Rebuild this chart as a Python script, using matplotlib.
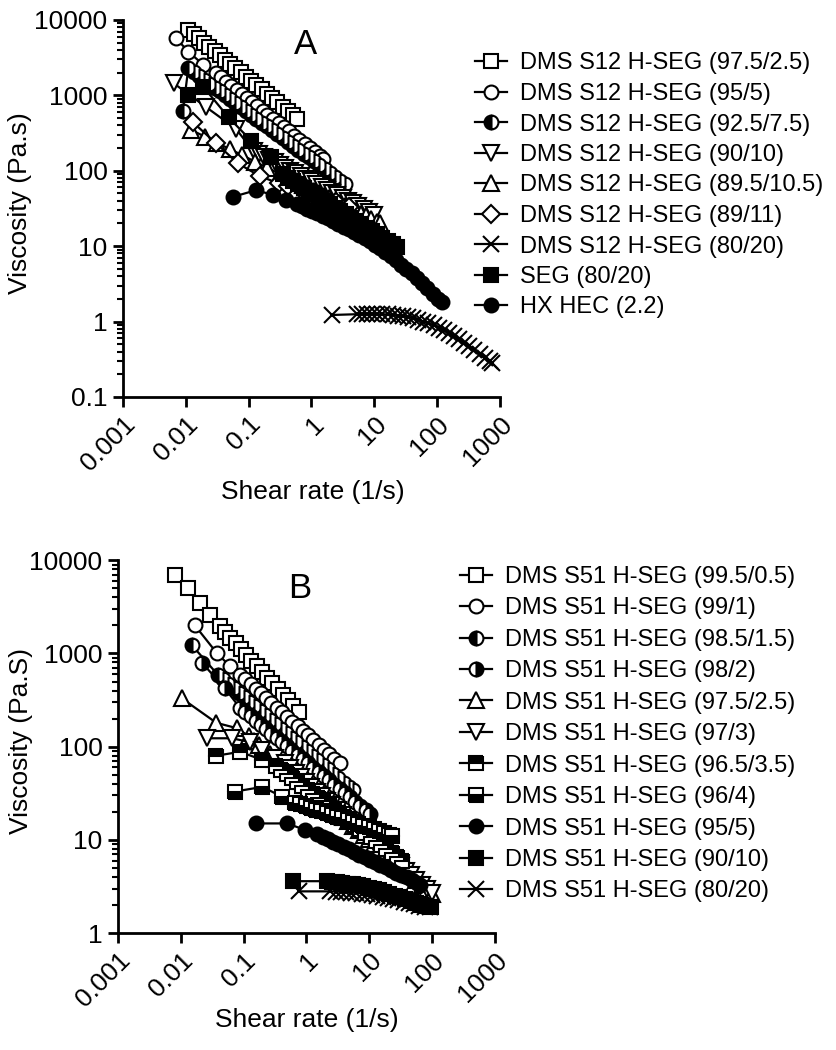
import matplotlib
matplotlib.use('Agg')
import matplotlib.pyplot as plt

plt.rcParams['font.family'] = ['Liberation Sans', 'DejaVu Sans']

# ---------------- panel A : DMS S12 H-SEG ----------------
a_labels = ['DMS S12 H-SEG (97.5/2.5)', 'DMS S12 H-SEG (95/5)', 'DMS S12 H-SEG (92.5/7.5)',
            'DMS S12 H-SEG (90/10)', 'DMS S12 H-SEG (89.5/10.5)', 'DMS S12 H-SEG (89/11)',
            'DMS S12 H-SEG (80/20)', 'SEG (80/20)', 'HX HEC (2.2)']

a1_rate = [0.011, 0.0133, 0.0162, 0.0196, 0.0237, 0.0287, 0.0348, 0.0422, 0.0511, 0.0619, 0.075,
           0.0909, 0.11, 0.133, 0.162, 0.196, 0.237, 0.287, 0.348, 0.422, 0.511, 0.58]
a1_visc = [7400, 6500, 5700, 5000, 4400, 3860, 3390, 2980, 2610, 2300, 2020, 1770, 1550, 1365, 1200,
           1050, 920, 810, 710, 625, 550, 480]

a2_rate = [0.0069, 0.011, 0.019, 0.03, 0.0363, 0.044, 0.0533, 0.0645, 0.078, 0.0945, 0.114, 0.138,
           0.167, 0.2, 0.245, 0.3, 0.363, 0.44, 0.533, 0.645, 0.78, 0.945, 1.14, 1.39, 1.55]
a2_visc = [5800, 3800, 2550, 1960, 1727, 1521, 1340, 1181, 1040, 917, 808, 712, 627, 552, 487, 429,
           378, 333, 293, 258, 228, 201, 177, 156, 145]

a3_rate = [0.009, 0.011, 0.0133, 0.0162, 0.0196, 0.0237, 0.0287, 0.0348, 0.0422, 0.0511, 0.0619,
           0.075, 0.0909, 0.11, 0.133, 0.162, 0.196, 0.237, 0.287, 0.348, 0.422, 0.511, 0.619, 0.75,
           0.909, 1.1, 1.33, 1.62, 1.96, 2.37, 2.87, 3.4]
a3_visc = [620, 2300, 2042, 1814, 1611, 1430, 1270, 1128, 1001, 889, 790, 701, 623, 553, 491, 436,
           387, 344, 305, 271, 241, 214, 190, 169, 150, 133, 118, 105, 93, 83, 73.6, 66]

a4_rate = [0.0064, 0.021, 0.063, 0.12, 0.145, 0.176, 0.213, 0.259, 0.313, 0.38, 0.46, 0.558, 0.676,
           0.819, 0.993, 1.2, 1.46, 1.77, 2.14, 2.6, 3.15, 3.82, 4.62, 5.6, 6.8, 8.2, 10]
a4_visc = [1450, 700, 360, 180, 166, 152, 140, 129, 118, 109, 100, 92, 85, 78, 72, 66, 61, 56, 51,
           47, 43, 40, 37, 34, 31, 28.5, 26]

a5_rate = [0.012, 0.02, 0.032, 0.05, 0.079, 0.126, 0.2, 0.32, 0.5, 0.606, 0.735, 0.891, 1.08, 1.31,
           1.59, 1.93, 2.34, 2.83, 3.43, 4.16, 5.05, 6.12, 7.42, 9.0, 10.9, 12.3]
a5_visc = [350, 284, 233, 194, 161, 132, 109, 90, 75, 69.3, 64, 59, 54.6, 50.5, 46.6, 43, 39.8, 36.8,
           34, 31.4, 29, 26.8, 24.8, 22.9, 21.1, 20]

a6_rate = [0.013, 0.03, 0.068, 0.15, 0.3, 0.43, 0.7, 1.0, 1.6, 2.5, 4.0]
a6_visc = [440, 233, 125, 85, 68, 62, 55, 50, 44, 38, 33]

a7_rate = [2.1, 5.3, 6.4, 7.7, 9.3, 11.2, 13.5, 16.3, 19.6, 23.7, 28.5, 34.4, 41.5, 50, 60.4, 72.8,
           87.8, 106, 128, 154, 186, 224, 270, 326, 393, 474, 572, 690, 760]
a7_visc = [1.22, 1.25, 1.26, 1.26, 1.26, 1.25, 1.25, 1.24, 1.22, 1.2, 1.18, 1.15, 1.11, 1.06, 1.0,
           0.95, 0.89, 0.83, 0.77, 0.7, 0.64, 0.58, 0.52, 0.47, 0.42, 0.37, 0.33, 0.295, 0.28]

a8_rate = [0.011, 0.019, 0.048, 0.11, 0.23, 0.35, 0.424, 0.514, 0.623, 0.755, 0.915, 1.11, 1.34,
           1.63, 1.97, 2.39, 2.9, 3.51, 4.26, 5.16, 6.25, 7.58, 9.18, 11.1, 13.5, 16.3, 19.8, 23]
a8_visc = [1000, 1300, 510, 250, 150, 90, 81.3, 73.4, 66.3, 59.9, 54.1, 48.8, 44.1, 39.8, 35.9, 32.5,
           29.3, 26.5, 23.9, 21.6, 19.5, 17.6, 15.9, 14.4, 13.0, 11.7, 10.6, 9.7]

a9_rate = [0.056, 0.13, 0.245, 0.4, 0.58, 0.7, 0.85, 1.03, 1.25, 1.51, 1.83, 2.22, 2.69, 3.26, 3.95,
           4.79, 5.8, 7.03, 8.52, 10.3, 12.5, 15.1, 18.3, 22.2, 26.9, 32.6, 39.5, 47.9, 58, 70.3,
           85.2, 103, 120]
a9_visc = [45, 55, 48, 41, 36, 33.8, 31.5, 29.3, 27.3, 25.3, 23.4, 21.5, 19.8, 18.2, 16.7, 15.3, 14.0,
           12.8, 11.6, 10.4, 9.3, 8.3, 7.4, 6.5, 5.7, 5.0, 4.35, 3.75, 3.2, 2.75, 2.35, 2.0, 1.8]

# ---------------- panel B : DMS S51 H-SEG ----------------
b_labels = ['DMS S51 H-SEG (99.5/0.5)', 'DMS S51 H-SEG (99/1)', 'DMS S51 H-SEG (98.5/1.5)',
            'DMS S51 H-SEG (98/2)', 'DMS S51 H-SEG (97.5/2.5)', 'DMS S51 H-SEG (97/3)',
            'DMS S51 H-SEG (96.5/3.5)', 'DMS S51 H-SEG (96/4)', 'DMS S51 H-SEG (95/5)',
            'DMS S51 H-SEG (90/10)', 'DMS S51 H-SEG (80/20)']

b1_rate = [0.0081, 0.013, 0.02, 0.029, 0.042, 0.051, 0.0618, 0.0749, 0.0908, 0.11, 0.133, 0.161,
           0.196, 0.237, 0.287, 0.348, 0.422, 0.511, 0.619, 0.75]
b1_visc = [6900, 5000, 3450, 2600, 1950, 1695, 1473, 1280, 1112, 966, 840, 730, 634, 551, 479, 416,
           362, 314, 273, 237]

b2_rate = [0.0168, 0.038, 0.061, 0.088, 0.107, 0.129, 0.156, 0.189, 0.229, 0.278, 0.337, 0.408,
           0.494, 0.599, 0.726, 0.879, 1.07, 1.29, 1.56, 1.9, 2.3, 2.78, 3.37]
b2_visc = [2000, 1000, 730, 590, 526, 468, 417, 372, 331, 295, 263, 234, 209, 186, 166, 148, 132, 117,
           104.5, 93, 83, 74, 66]

b3_rate = [0.015, 0.039, 0.0473, 0.0573, 0.0694, 0.0841, 0.102, 0.123, 0.149, 0.181, 0.219, 0.266,
           0.322, 0.39, 0.473, 0.573, 0.694, 0.841, 1.02, 1.23, 1.49, 1.81, 2.19, 2.66, 3.22, 3.9,
           4.73, 5.5]
b3_visc = [1230, 590, 528, 473, 423, 379, 339, 303, 272, 243, 218, 195, 174, 156, 140, 125, 112, 100,
           89.6, 80.2, 71.8, 64.2, 57.5, 51.4, 46, 41.2, 36.9, 34]

b4_rate = [0.022, 0.05, 0.088, 0.107, 0.129, 0.156, 0.189, 0.229, 0.278, 0.337, 0.408, 0.494, 0.599,
           0.726, 0.879, 1.07, 1.29, 1.56, 1.9, 2.3, 2.78, 3.37, 4.08, 4.94, 5.99, 7.26, 8.79, 10.3]
b4_visc = [790, 425, 260, 234, 211, 190, 171, 154, 138, 124, 112, 101, 90.7, 81.6, 73.5, 66.1, 59.5,
           53.6, 48.2, 43.4, 39, 35.1, 31.6, 28.5, 25.6, 23, 20.7, 19]

b5_rate = [0.0104, 0.037, 0.078, 0.12, 0.145, 0.176, 0.213, 0.259, 0.313, 0.38, 0.46, 0.558, 0.676,
           0.819, 0.993, 1.2, 1.46, 1.77, 2.14, 2.6, 3.15, 3.82, 4.62, 5.6, 6.8, 8.2, 10, 12.1, 14.7,
           17.8, 21.5, 26.1, 31.6, 38.3, 46.4, 56.2, 68.1, 82.5, 100]
b5_visc = [330, 180, 158, 130, 116, 104, 93.2, 83.4, 74.6, 66.8, 59.8, 53.5, 47.9, 42.9, 38.4, 34.3,
           30.7, 27.5, 24.6, 22, 19.7, 17.6, 15.8, 14.1, 12.6, 11.3, 10.1, 9.05, 8.1, 7.25, 6.5, 5.8,
           5.2, 4.65, 4.15, 3.7, 3.3, 2.95, 2.65]

b6_rate = [0.026, 0.065, 0.126, 0.2, 0.32, 0.46, 0.558, 0.676, 0.819, 0.993, 1.2, 1.46, 1.77, 2.14,
           2.6, 3.15, 3.82, 4.62, 5.6, 6.8, 8.2, 10, 12.1, 14.7, 17.8, 21.5, 26.1, 31.6, 38.3, 46.4,
           56.2, 68.1, 82.5, 100]
b6_visc = [123, 123, 112, 91, 75, 66, 58.8, 52.4, 46.7, 41.6, 37.1, 33.0, 29.4, 26.2, 23.4, 20.8, 18.6,
           16.5, 14.7, 13.1, 11.7, 10.4, 9.3, 8.3, 7.4, 6.6, 5.85, 5.2, 4.65, 4.15, 3.7, 3.3, 2.95, 2.7]

b7_rate = [0.037, 0.088, 0.2, 0.33, 0.4, 0.485, 0.588, 0.712, 0.863, 1.05, 1.27, 1.54, 1.86, 2.26,
           2.74, 3.32, 4.02, 4.87, 5.9, 7.15, 8.67, 10.5, 12.7, 15.4, 18.7, 22.7, 27.5, 33.3]
b7_visc = [80, 88, 72, 62, 56.2, 51, 46.3, 42, 38.1, 34.5, 31.3, 28.4, 25.8, 23.4, 21.2, 19.2, 17.4,
           15.8, 14.3, 13, 11.8, 10.7, 9.7, 8.8, 8.0, 7.25, 6.6, 6.0]

b8_rate = [0.073, 0.2, 0.41, 0.66, 0.8, 0.97, 1.18, 1.43, 1.73, 2.1, 2.54, 3.08, 3.73, 4.52, 5.48,
           6.64, 8.05, 9.75, 11.8, 14.3, 17.4, 21.0, 23]
b8_visc = [33, 37, 29, 25, 24.1, 23.1, 22.1, 21.1, 20.2, 19.4, 18.5, 17.7, 17, 16.2, 15.5, 14.9, 14.2,
           13.6, 13, 12.5, 11.9, 11.4, 11]

b9_rate = [0.16, 0.49, 0.95, 1.5, 1.82, 2.2, 2.67, 3.24, 3.92, 4.75, 5.75, 6.97, 8.45, 10.2, 12.4, 15,
           18.2, 22.1, 26.7, 32.4, 39.3, 47.6, 57.7, 65]
b9_visc = [15, 15, 12.8, 11.5, 10.8, 10.1, 9.5, 8.95, 8.4, 7.9, 7.4, 6.95, 6.5, 6.1, 5.75, 5.4, 5.05,
           4.75, 4.45, 4.2, 3.95, 3.7, 3.45, 3.3]

b10_rate = [0.62, 2.1, 2.54, 3.08, 3.73, 4.52, 5.48, 6.64, 8.05, 9.75, 11.8, 14.3, 17.4, 21, 25.5,
            30.9, 37.4, 45.4, 55, 66.6, 80.7, 97.8]
b10_visc = [3.6, 3.6, 3.55, 3.5, 3.45, 3.4, 3.33, 3.25, 3.17, 3.08, 2.98, 2.87, 2.76, 2.64, 2.52,
            2.41, 2.3, 2.2, 2.1, 2.01, 1.94, 1.88]

b11_rate = [0.75, 2.4, 2.91, 3.52, 4.27, 5.17, 6.27, 7.6, 9.2, 11.2, 13.5, 16.4, 19.9, 24.1, 29.2,
            35.4, 42.9, 52, 63, 76.3, 92.5]
b11_visc = [2.8, 2.8, 2.79, 2.77, 2.75, 2.72, 2.69, 2.65, 2.61, 2.56, 2.5, 2.44, 2.38, 2.31, 2.24,
            2.17, 2.1, 2.03, 1.97, 1.92, 1.88]

x_ticks = [0.001, 0.01, 0.1, 1, 10, 100, 1000]
x_ticklabels = ['0.001', '0.01', '0.1', '1', '10', '100', '1000']
a_yticks = [0.1, 1, 10, 100, 1000, 10000]
a_yticklabels = ['0.1', '1', '10', '100', '1000', '10000']
b_yticks = [1, 10, 100, 1000, 10000]
b_yticklabels = ['1', '10', '100', '1000', '10000']


def draw(ax, rate, visc, label, marker, fill='white', ms=10):
    kw = dict(marker=marker, color='black', lw=1.6, ms=ms, mec='black', mew=1.5, label=label)
    if fill in ('left', 'right', 'top', 'bottom'):
        kw.update(fillstyle=fill, mfc='black', mfcalt='white')
    else:
        kw.update(mfc=fill)
    ax.plot(rate, visc, **kw)


def style_axes(ax, yticks, yticklabels):
    ax.set_xscale('log')
    ax.set_yscale('log')
    ax.set_xlim(0.001, 1000)
    ax.set_ylim(yticks[0], yticks[-1])
    for side in ['top', 'right']:
        ax.spines[side].set_visible(False)
    for side in ['left', 'bottom']:
        ax.spines[side].set_linewidth(2)
    ax.set_xticks(x_ticks)
    ax.set_xticklabels(x_ticklabels, rotation=45, ha='right', va='top', rotation_mode='anchor')
    ax.set_yticks(yticks)
    ax.set_yticklabels(yticklabels)
    ax.tick_params(which='major', length=7, width=2, labelsize=19, pad=4)
    ax.tick_params(which='minor', length=4, width=1.5)


fig = plt.figure(figsize=(8.36, 10.5), dpi=100)

axA = fig.add_axes([0.147, 0.622, 0.451, 0.359])
draw(axA, a1_rate, a1_visc, a_labels[0], 's')
draw(axA, a2_rate, a2_visc, a_labels[1], 'o')
draw(axA, a3_rate, a3_visc, a_labels[2], 'o', 'left')
draw(axA, a4_rate, a4_visc, a_labels[3], 'v', ms=11)
draw(axA, a5_rate, a5_visc, a_labels[4], '^', ms=11)
draw(axA, a6_rate, a6_visc, a_labels[5], 'D', ms=9)
draw(axA, a7_rate, a7_visc, a_labels[6], 'x', ms=11)
draw(axA, a8_rate, a8_visc, a_labels[7], 's', 'black')
draw(axA, a9_rate, a9_visc, a_labels[8], 'o', 'black')
style_axes(axA, a_yticks, a_yticklabels)
axA.set_xlabel('Shear rate (1/s)', fontsize=19)
axA.set_ylabel('Viscosity (Pa.s)', fontsize=19)
axA.xaxis.set_label_coords(0.504, -0.22)
axA.yaxis.set_label_coords(-0.241, 0.515)
axA.text(0.483, 0.934, 'A', transform=axA.transAxes, fontsize=25, ha='center', va='center')
axA.legend(loc='upper left', bbox_to_anchor=(0.568, 0.950), bbox_transform=fig.transFigure,
           frameon=False, fontsize=17, handlelength=1.35, handletextpad=0.55, labelspacing=0.36,
           borderpad=0, borderaxespad=0, numpoints=1)

axB = fig.add_axes([0.141, 0.1114, 0.451, 0.355])
draw(axB, b1_rate, b1_visc, b_labels[0], 's')
draw(axB, b2_rate, b2_visc, b_labels[1], 'o')
draw(axB, b3_rate, b3_visc, b_labels[2], 'o', 'left')
draw(axB, b4_rate, b4_visc, b_labels[3], 'o', 'right')
draw(axB, b5_rate, b5_visc, b_labels[4], '^', ms=11)
draw(axB, b6_rate, b6_visc, b_labels[5], 'v', ms=11)
draw(axB, b7_rate, b7_visc, b_labels[6], 's', 'top')
draw(axB, b8_rate, b8_visc, b_labels[7], 's', 'bottom')
draw(axB, b9_rate, b9_visc, b_labels[8], 'o', 'black')
draw(axB, b10_rate, b10_visc, b_labels[9], 's', 'black')
draw(axB, b11_rate, b11_visc, b_labels[10], 'x', ms=11)
style_axes(axB, b_yticks, b_yticklabels)
axB.set_xlabel('Shear rate (1/s)', fontsize=19)
axB.set_ylabel('Viscosity (Pa.S)', fontsize=19)
axB.xaxis.set_label_coords(0.50, -0.20)
axB.yaxis.set_label_coords(-0.225, 0.515)
axB.text(0.483, 0.925, 'B', transform=axB.transAxes, fontsize=25, ha='center', va='center')
axB.legend(loc='upper left', bbox_to_anchor=(0.550, 0.461), bbox_transform=fig.transFigure,
           frameon=False, fontsize=17, handlelength=1.35, handletextpad=0.55, labelspacing=0.4,
           borderpad=0, borderaxespad=0, numpoints=1)

fig.savefig('out.png', dpi=100)
